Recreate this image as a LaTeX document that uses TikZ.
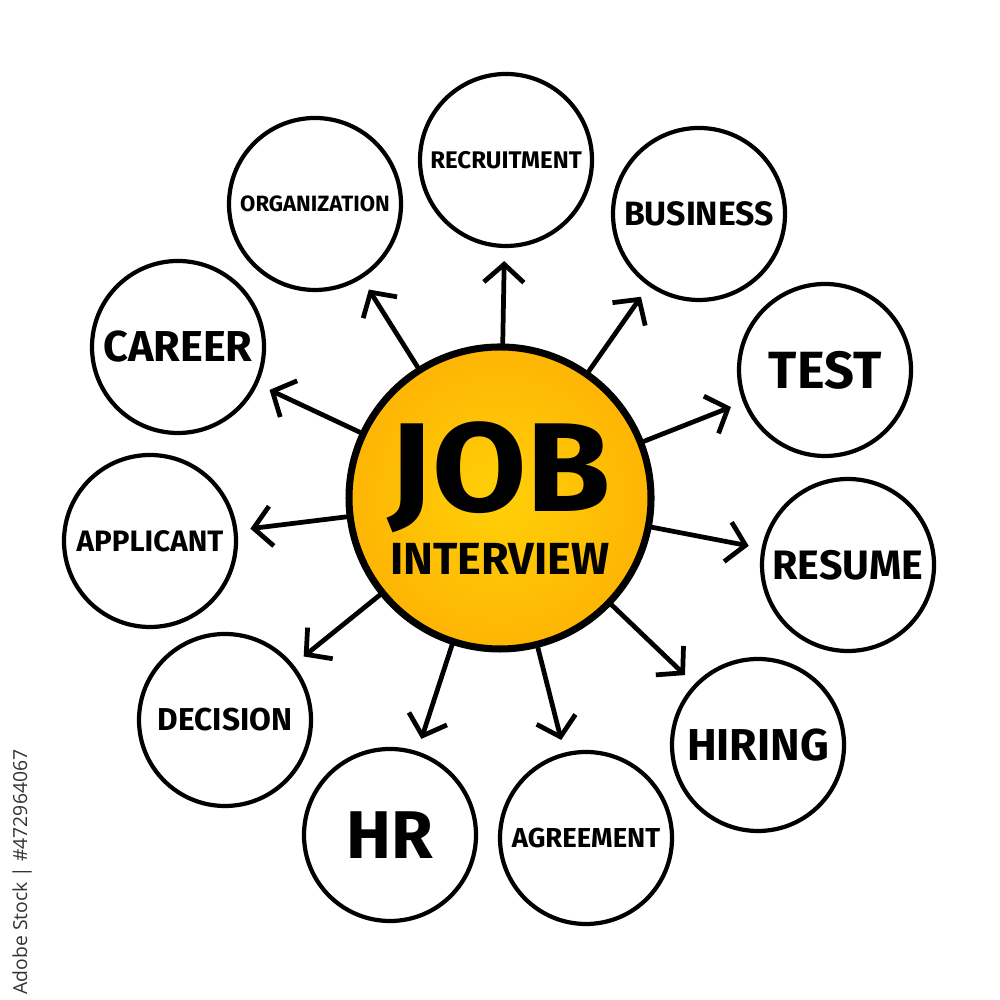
\documentclass[tikz,border=0pt]{standalone}
\usepackage{fontspec}
\setmainfont{Fira Sans}
\newfontfamily\stockfont{Open Sans}
\usepackage{tikz}
\usetikzlibrary{arrows.meta, shapes, positioning, calc}
\definecolor{jobin}{RGB}{255,208,8}
\definecolor{jobmid}{RGB}{254,184,4}
\definecolor{jobout}{RGB}{251,150,0}
\pgfdeclareradialshading{jobglow}{\pgfpoint{0bp}{0bp}}{color(0bp)=(jobin); color(22bp)=(jobmid); color(50bp)=(jobout)}

\begin{document}
\begin{tikzpicture}[
  % --- styles ------------------------------------------------------------
  hub/.style={
    circle, draw, line width=2pt, shade, shading=jobglow,
    minimum size=3.02cm, inner sep=0pt, align=center
  },
  topic/.style={
    circle, draw, line width=1.2pt, fill=white,
    minimum size=1.72cm, inner sep=0pt
  },
  fs/.style={font=\bfseries\fontsize{#1}{#1}\selectfont},
  spoke/.style={-{Straight Barb[length=1.8mm, width=4mm]}, line width=1.35pt,
    line cap=round, shorten >=0.13cm}
]
\path[use as bounding box, fill=white] (0,0) rectangle (10,10);

% --------------------- centre -------------------------------------------
\node[hub, fs=12.8] (job) at (5,5.02)
  {\scalebox{1.08}[1]{\fontsize{36}{36}\selectfont JOB}\\[2pt]INTERVIEW};

% --------------------- ring of topics -----------------------------------
\node[topic, fs=6.3] (org) at (3.15,7.96) {ORGANIZATION};
\node[topic, fs=6.85] (rec) at (5.06,8.40) {RECRUITMENT};
\node[topic, fs=9.6] (bus) at (6.99,7.86) {BUSINESS};
\node[topic, fs=14.9] (tst) at (8.25,6.30) {TEST};
\node[topic, fs=11.7] (res) at (8.48,4.35) {RESUME};
\node[topic, fs=12.7] (hir) at (7.58,2.55) {HIRING};
\node[topic, fs=7.8] (agr) at (5.86,1.62) {AGREEMENT};
\node[topic, fs=19.2] (hr) at (3.90,1.65) {HR};
\node[topic, fs=9] (dec) at (2.25,2.80) {DECISION};
\node[topic, fs=8.4] (app) at (1.50,4.59) {APPLICANT};
\node[topic, fs=12.3] (car) at (1.78,6.53) {CAREER};

% --------------------- spokes -------------------------------------------
\foreach \t in {org,rec,bus,tst,res,hir,agr,hr,dec,app,car}
  \draw[spoke] (job) -- (\t);

% --------------------- stock id -----------------------------------------
\node[rotate=90, font=\stockfont\fontsize{5.5}{6}\selectfont, text=black!80]
  (stock) at (0.22,1.28) {Adobe Stock | \#472964067};

\end{tikzpicture}
\end{document}
